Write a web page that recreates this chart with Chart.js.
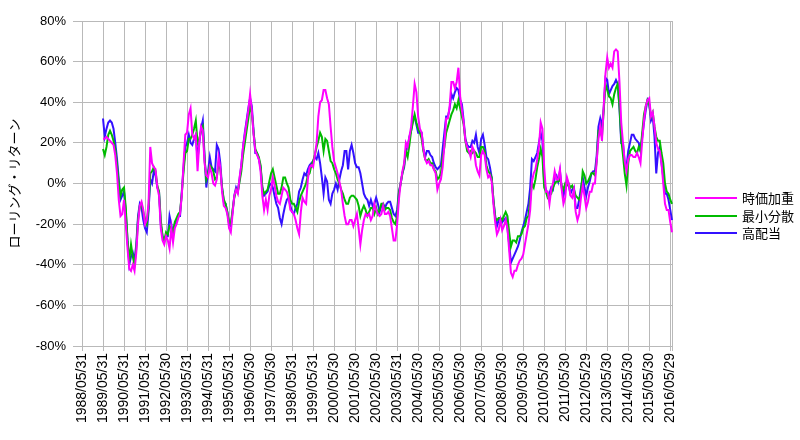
<!DOCTYPE html>
<html lang="ja">
<head>
<meta charset="utf-8">
<title>ローリング・リターン</title>
<script src="https://cdn.jsdelivr.net/npm/chart.js@4.4.1/dist/chart.umd.min.js"></script>
<style>
  html, body { margin: 0; padding: 0; background: #fff; }
  #wrap { position: relative; width: 800px; height: 440px; }
  #legend { position: absolute; left: 695px; top: 189px; font: 13px "Noto Sans CJK JP", sans-serif; color: #000; }
  .item { position: relative; height: 17.5px; }
  .item i { position: absolute; left: 0; top: 8px; width: 42px; height: 2px; }
  .item span { position: absolute; left: 47px; top: 0; line-height: 17.5px; white-space: nowrap; }
</style>
</head>
<body>
<div id="wrap">
  <canvas id="chart" width="800" height="440"></canvas>
  <div id="legend"></div>
</div>
<script>
// x-axis labels shown once a year (every 12th month)
const tickLabels = [
  '1988/05/31', '1989/05/31', '1990/05/31', '1991/05/31', '1992/05/30',
  '1993/05/31', '1994/05/31', '1995/05/31', '1996/05/30', '1997/05/30',
  '1998/05/31', '1999/05/31', '2000/05/30', '2001/05/30', '2002/05/30',
  '2003/05/31', '2004/05/30', '2005/05/30', '2006/05/30', '2007/05/30',
  '2008/05/30', '2009/05/30', '2010/05/30', '2011/05/30', '2012/05/29',
  '2013/05/30', '2014/05/30', '2015/05/30', '2016/05/29'
];

// monthly rolling returns (%), 1988/05 .. 2016/06; first year has no value
const capWeighted = [ // 時価加重
  null, null, null, null, null, null, null, null, null, null, null, null,
  22, 22, 23, 22, 21, 20, 19, 14, 5, -8, -16, -15,
  -8, -20, -32, -42, -43, -40, -43, -34, -20, -11, -9, -13,
  -20, -18, -10, 18, 10, 8, 7, -2, -6, -22, -28, -30,
  -26, -28, -32, -22, -29, -22, -20, -17, -15, -6, 10, 24,
  25, 34, 37, 24, 22, 24, 6, 20, 28, 26, 10, 4,
  3, 8, 5, 0, -1, 2, 13, 8, -4, -11, -12, -15,
  -22, -24, -15, -6, -3, -5, 3, 9, 18, 24, 30, 36,
  44, 36, 24, 16, 14, 12, 6, -6, -13, -8, -13, -6,
  -3, 3, -1, -6, -9, -10, -6, -2, -3, -4, -7, -13,
  -14, -15, -18, -22, -25, -14, -7, -9, -10, 2, 8, 9,
  8, 14, 20, 33, 40, 41, 46, 46, 42, 39, 28, 18,
  11, 8, 5, 1, -3, -10, -16, -20, -20, -18, -18, -21,
  -18, -15, -22, -30, -23, -18, -15, -16, -15, -18, -16, -10,
  -13, -15, -16, -15, -11, -15, -15, -14, -16, -22, -28, -28,
  -20, -8, 0, 6, 10, 20, 18, 23, 28, 38, 49, 45,
  33, 27, 25, 17, 12, 10, 11, 9, 9, 7, 5, -3,
  0, 2, 8, 19, 32, 32, 38, 50, 50, 47, 50, 57,
  43, 36, 30, 21, 18, 16, 13, 18, 16, 9, 6, 4,
  14, 16, 14, 7, 3, 4, 1, -10, -19, -25, -23, -18,
  -23, -21, -18, -22, -33, -44, -46, -43, -43, -40, -38, -37,
  -35, -30, -25, -20, -13, 1, 5, 7, 12, 18, 30, 27,
  8, -4, -4, -10, -3, 0, 6, 2, 2, 7, -3, -10,
  -7, 3, 0, -6, -7, -3, -14, -18, -15, -7, -1, -6,
  -12, -9, -4, -4, 0, 0, 11, 22, 28, 21, 38, 54,
  62, 57, 59, 57, 65, 66, 65, 50, 30, 20, 11, 6,
  12, 14, 14, 13, 13, 15, 13, 10, 21, 31, 38, 41,
  42, 33, 35, 28, 20, 17, 16, 10, 0, -10, -13, -13,
  -19, -24
];

const minVariance = [ // 最小分散
  null, null, null, null, null, null, null, null, null, null, null, null,
  17, 14, 18, 24, 26, 24, 21, 17, 9, 0, -6, -3,
  -2, -12, -28, -38, -30, -36, -40, -32, -18, -11, -10, -14,
  -18, -20, -12, 5, 6, 8, 6, -1, -4, -18, -26, -28,
  -24, -25, -21, -22, -24, -19, -17, -15, -14, -5, 6, 15,
  16, 22, 22, 24, 27, 31, 20, 22, 26, 28, 12, 2,
  5, 9, 8, 6, 2, 3, 10, 7, -2, -8, -10, -14,
  -19, -20, -13, -7, -3, -4, 1, 6, 14, 20, 26, 32,
  38, 35, 25, 17, 15, 13, 9, -2, -5, -4, -3, 1,
  5, 7, 3, -1, -5, -5, -2, 3, 3, 0, -2, -8,
  -10, -10, -12, -14, -9, -6, -4, -2, 0, 4, 5, 9,
  11, 14, 18, 21, 25, 23, 16, 22, 21, 16, 11, 10,
  7, 5, 2, 0, -3, -5, -8, -10, -10, -7, -6, -6,
  -7, -8, -11, -16, -13, -11, -13, -16, -14, -12, -12, -15,
  -12, -15, -13, -10, -10, -13, -12, -12, -13, -17, -19, -20,
  -16, -5, 0, 5, 9, 16, 13, 19, 26, 30, 34, 30,
  27, 25, 22, 16, 12, 11, 12, 10, 10, 7, 6, 2,
  3, 5, 13, 18, 25, 28, 31, 34, 36, 39, 37, 41,
  37, 33, 29, 21, 16, 15, 16, 15, 16, 15, 13, 13,
  18, 18, 16, 9, 6, 5, 3, -8, -17, -18, -17, -17,
  -18, -16, -14, -16, -24, -31, -28, -28, -29, -26, -26, -25,
  -22, -21, -17, -16, -8, 0, -2, 2, 8, 12, 17, 13,
  -2, -4, -7, -6, -5, -2, 0, 1, 1, 2, -1, -3,
  0, -1, 0, -2, -1, -3, -6, -7, -8, -5, 6, 4,
  0, 1, 3, 5, 5, 4, 11, 26, 26, 23, 36, 49,
  46, 43, 42, 39, 44, 47, 49, 38, 22, 14, 5, -1,
  10, 16, 17, 18, 16, 15, 18, 16, 25, 34, 38, 41,
  39, 33, 35, 28, 23, 21, 21, 15, 10, 0, -4, -5,
  -8, -10
];

const highDividend = [ // 高配当
  null, null, null, null, null, null, null, null, null, null, null, null,
  32, 23, 27, 30, 31, 30, 27, 20, 12, 2, -8, -6,
  -4, -14, -28, -40, -36, -34, -38, -30, -16, -10, -12, -18,
  -22, -24, -14, 2, 0, 6, 4, -2, -4, -20, -26, -28,
  -26, -26, -16, -20, -25, -20, -19, -16, -16, -4, 8, 18,
  20, 24, 20, 19, 22, 24, 12, 20, 27, 31, 14, -2,
  6, 13, 8, 7, 6, 19, 17, 10, -2, -9, -10, -14,
  -20, -21, -14, -6, -2, -4, 2, 9, 18, 25, 31, 37,
  42, 38, 26, 15, 15, 12, 8, -2, -6, -5, -4, -1,
  0, -2, -6, -10, -12, -17, -20, -15, -11, -8, -7, -11,
  -14, -15, -12, -10, -4, -2, 2, 5, 4, 7, 9, 10,
  11, 13, 12, 15, 10, 3, -5, 3, 1, -8, -10, -5,
  -3, 0, -3, 2, 6, 9, 16, 16, 7, 16, 19, 15,
  10, 8, 8, 5, 0, -5, -7, -8, -11, -8, -11, -10,
  -7, -10, -14, -11, -10, -12, -10, -9, -9, -12, -15, -16,
  -13, -4, 0, 5, 8, 16, 18, 23, 26, 32, 33, 29,
  25, 25, 25, 17, 13, 16, 16, 14, 13, 10, 8, 7,
  8, 9, 17, 25, 33, 33, 37, 44, 42, 45, 47, 46,
  41, 39, 31, 22, 19, 18, 18, 21, 20, 24, 18, 15,
  22, 24, 19, 13, 12, 8, 3, -8, -16, -21, -18, -17,
  -19, -18, -17, -22, -30, -39, -37, -35, -33, -31, -28, -24,
  -21, -18, -14, -10, -2, 12, 11, 13, 15, 20, 25, 21,
  0, -3, -5, -5, -2, -3, 3, 4, 1, 6, -2, -6,
  -3, 2, -1, -5, -3, -2, -12, -12, -8, -2, 3, -2,
  -6, -2, 1, 5, 6, 6, 14, 28, 32, 28, 37, 52,
  51, 44, 46, 48, 49, 51, 49, 37, 20, 20, 10, 8,
  16, 20, 24, 24, 22, 21, 20, 16, 23, 30, 36, 41,
  39, 31, 33, 23, 5, 15, 18, 10, 3, -5, -5, -8,
  -13, -18
];

// one category per month, starting 1988/05
const months = [];
for (let i = 0; i < capWeighted.length; i++) {
  const y = 1988 + Math.floor((4 + i) / 12);
  const m = (4 + i) % 12 + 1;
  months.push(y + '/' + String(m).padStart(2, '0'));
}

const GRID = '#b9b9b9';
const FONT = '"Liberation Sans", Arial, sans-serif';
const JP = '"Noto Sans CJK JP", sans-serif';
const last = months.length - 1;

const chart = new Chart(document.getElementById('chart'), {
  type: 'line',
  data: {
    labels: months,
    datasets: [
      { label: '時価加重', data: capWeighted, borderColor: '#ff00ff', backgroundColor: '#ff00ff' },
      { label: '最小分散', data: minVariance, borderColor: '#00bb00', backgroundColor: '#00bb00' },
      { label: '高配当', data: highDividend, borderColor: '#3311ff', backgroundColor: '#3311ff' }
    ]
  },
  options: {
    responsive: false,
    animation: false,
    layout: { padding: { top: 21, right: 128, bottom: 0, left: 0 } },
    elements: {
      point: { radius: 0 },
      line: { borderWidth: 2, tension: 0 }
    },
    plugins: {
      legend: { display: false },
      tooltip: { enabled: false }
    },
    scales: {
      x: {
        grid: {
          color: c => (c.index % 12 === 0 || c.index === last) ? GRID : 'rgba(0,0,0,0)',
          tickLength: 5
        },
        border: { color: GRID },
        ticks: {
          autoSkip: false,
          minRotation: 90,
          maxRotation: 90,
          padding: 2,
          color: '#000',
          font: { family: FONT, size: 14 },
          callback: (v, i) => i % 12 === 0 ? tickLabels[i / 12] : ''
        },
        afterFit: s => { s.height = 94; }
      },
      y: {
        min: -80,
        max: 80,
        grid: { color: GRID, tickLength: 9 },
        border: { color: GRID },
        ticks: {
          stepSize: 20,
          padding: 7,
          color: '#000',
          font: { family: FONT, size: 13 },
          callback: v => v + '%'
        },
        title: {
          display: true,
          text: 'ローリング・リターン',
          color: '#000',
          font: { family: JP, size: 13 },
          padding: { top: 6, bottom: 0 }
        },
        afterFit: s => { s.width = 82; }
      }
    }
  }
});

// legend at the right, built from the datasets
const legend = document.getElementById('legend');
chart.data.datasets.forEach(ds => {
  const row = document.createElement('div');
  row.className = 'item';
  row.innerHTML = '<i style="background:' + ds.borderColor + '"></i><span>' + ds.label + '</span>';
  legend.appendChild(row);
});
</script>
</body>
</html>
